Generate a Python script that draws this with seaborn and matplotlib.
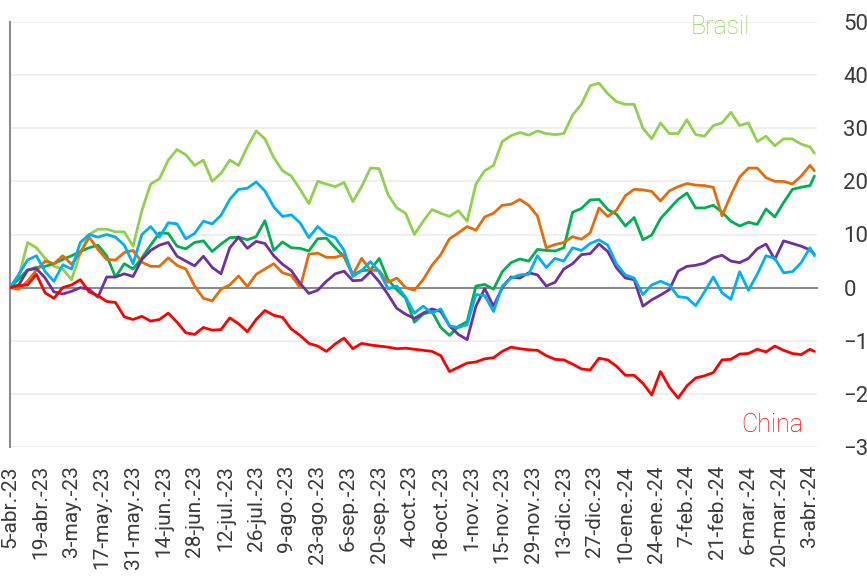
import numpy as np
import pandas as pd
import matplotlib
matplotlib.use('Agg')
import matplotlib.pyplot as plt
import matplotlib.dates as mdates
import seaborn as sns

# ---------------- data ----------------
fechas = list(pd.date_range('2023-04-05', periods=92, freq='4D')) + [pd.Timestamp('2024-04-05')]

brasil = [0, 2, 8.5, 7.5, 5.5, 4, 3.5, 1.5, 6.5, 10,
          11, 11, 10.5, 10.5, 7.8, 14.5, 19.5, 20.5, 24, 26,
          25, 23, 24, 20, 21.5, 24, 23, 26.5, 29.5, 28,
          24.5, 22, 21, 18.5, 15.8, 20, 19.5, 19, 19.8, 16.2,
          19, 22.5, 22.4, 17.5, 15, 14, 10, 12.5, 14.7, 14,
          13.4, 14.5, 12.5, 19.5, 22, 23, 27.5, 28.6, 29.2, 28.7,
          29.5, 29, 28.8, 29, 32.5, 34.5, 38, 38.5, 36.5, 35,
          34.5, 34.5, 30, 28, 31, 29, 29, 31.6, 28.8, 28.5,
          30.5, 31, 33, 30.5, 31, 27.5, 28.5, 26.7, 28, 28,
          27, 26.5, 25.3]

verde = [0, 1.6, 3.3, 3.8, 4, 4.5, 5.3, 6, 6.8, 7.5,
         8, 6, 2, 4.5, 3.5, 5.6, 8, 10.3, 10.2, 7.8,
         7.3, 8.5, 8.8, 6.8, 8.2, 9.4, 9.5, 9, 9.6, 12.6,
         7, 8.6, 7.5, 7.4, 6.9, 9.2, 9.3, 7.5, 5.8, 2.4,
         3.2, 3.3, 5.5, 1.5, -0.4, -2, -6.5, -5, -4.5, -7.5,
         -9, -7.3, -6.4, 0.3, 0.6, -0.3, 3, 4.7, 5.4, 5,
         7.2, 7, 6.9, 7.5, 14.2, 14.9, 16.5, 16.6, 14.7, 13.8,
         11.6, 13.2, 9, 9.9, 13, 14.8, 16.6, 17.8, 15, 15,
         15.5, 14.2, 12.5, 11.6, 12.3, 11.9, 14.8, 13.3, 16, 18.5,
         18.9, 19.2, 21]

naranja = [0, -0.3, 1.2, 3.3, 5, 4.5, 6, 4.4, 6.5, 9.5,
           7.2, 5.3, 5.2, 6.6, 7, 4.8, 4, 4, 5.6, 4.2,
           3.5, 0.3, -2, -2.5, -0.3, 0.5, 2.2, 0.2, 2.5, 3.5,
           4.5, 2.8, 2.3, 0, 6.3, 6.5, 5.7, 5.7, 6.2, 2.4,
           5.5, 3.3, 3.2, 1, 1.8, 0, -0.5, 1.5, 4.2, 6.2,
           9.2, 10.3, 11.5, 10.8, 13.3, 14, 15.5, 15.7, 16.6, 15.5,
           13.5, 7.5, 8.1, 8.5, 9.6, 9.1, 10.3, 15, 13.4, 14.6,
           17.3, 18.5, 18.4, 18.1, 16.3, 18.2, 19, 19.6, 19.3, 19.2,
           18.9, 13.5, 17.4, 20.8, 22.5, 22.5, 20.7, 20, 20, 19.5,
           21, 23, 22]

morado = [0, 0.5, 3.3, 3.6, 1.8, -0.8, -1.2, -0.7, 0, -0.3,
          -1.8, 2, 2, 2.6, 2.1, 5.3, 7, 8, 8.5, 5.9,
          5, 4.1, 5.9, 3.8, 2.6, 7.5, 9.5, 7.4, 8.7, 8.3,
          6, 4.4, 3.2, 0.8, -1.1, -0.5, 1.2, 2.6, 3.1, 1.3,
          1.4, 3, 1.1, -1.3, -3.9, -5, -5.8, -4.8, -4, -4.5,
          -7.2, -8.8, -9.8, -3.5, -0.2, -3.5, 0, 2, 1.8, 2.8,
          2.4, 0.3, 1, 3.5, 4.5, 6.2, 6.4, 8.2, 6.8, 3.7,
          1.8, 1.5, -3.5, -2.3, -1.4, -0.4, 3.1, 4, 4.2, 4.6,
          5.6, 6.1, 5, 4.7, 5.5, 7.3, 8.2, 5.3, 8.8, 8.3,
          7.8, 7.1, 6.3]

celeste = [0, 2.5, 5.2, 6, 3, 1.2, 4.3, 3.5, 8.5, 10,
           9.5, 10, 9.5, 8, 4.5, 10, 11.5, 9.5, 12.2, 12,
           9.2, 10.2, 12.5, 12, 13.6, 16.6, 18.5, 18.7, 19.9, 18.2,
           15.2, 13.4, 13.7, 12.2, 9.4, 11.5, 10, 9.4, 7, 2.1,
           3.2, 4.9, 3, -0.2, 0.3, -1.8, -4.8, -3.5, -4.8, -4,
           -7.2, -7.5, -7, -1.3, -1.5, -4.5, 0.3, 1.8, 2.4, 2.5,
           6, 3.8, 5.5, 5, 7.5, 7, 8.3, 9, 8, 4.4,
           2.4, 1.8, -1.3, 0.5, 1.2, 0.5, -1.7, -1.9, -3.4, -0.8,
           2, -1, -2.2, 3, -0.5, 2.5, 6, 5.5, 2.8, 3,
           4.7, 7.5, 6]

china = [0, 0.4, 0.5, 2.5, -1, -2, 0, 0.5, 1.5, -0.8,
         -1.5, -2.6, -2.8, -5.5, -6, -5.4, -6.3, -6, -4.8, -6.5,
         -8.5, -8.8, -7.5, -8, -7.9, -5.7, -6.8, -8.3, -6, -4.3,
         -5.2, -5.6, -7.8, -9, -10.5, -11, -12, -10.6, -9.5, -11.5,
         -10.5, -10.8, -11, -11.2, -11.5, -11.4, -11.6, -11.8, -12, -12.8,
         -15.8, -15, -14.2, -14, -13.4, -13.2, -12, -11.2, -11.5, -11.7,
         -11.8, -12.8, -13.5, -13.6, -14.4, -15.3, -15.5, -13.3, -13.6, -14.8,
         -16.5, -16.5, -18, -20.2, -15.8, -18.7, -20.8, -18.5, -17, -16.6,
         -16, -13.6, -13.5, -12.5, -12.4, -11.6, -12.1, -11, -11.8, -12.4,
         -12.6, -11.6, -12]

series = {'Brasil': brasil, 'Verde': verde, 'Naranja': naranja,
          'Morado': morado, 'Celeste': celeste, 'China': china}
colores = {'Brasil': '#92D050', 'Verde': '#00B050', 'Naranja': '#E46C0A',
           'Morado': '#7030A0', 'Celeste': '#00B0F0', 'China': '#FF0000'}

etiquetas = ['5-abr.-23', '19-abr.-23', '3-may.-23', '17-may.-23', '31-may.-23',
             '14-jun.-23', '28-jun.-23', '12-jul.-23', '26-jul.-23', '9-ago.-23',
             '23-ago.-23', '6-sep.-23', '20-sep.-23', '4-oct.-23', '18-oct.-23',
             '1-nov.-23', '15-nov.-23', '29-nov.-23', '13-dic.-23', '27-dic.-23',
             '10-ene.-24', '24-ene.-24', '7-feb.-24', '21-feb.-24', '6-mar.-24',
             '20-mar.-24', '3-abr.-24']
fechas_eje = pd.date_range('2023-04-05', periods=27, freq='14D')
yticks = [50, 40, 30, 20, 10, 0, -10, -20, -30]

# ---------------- style ----------------
sns.set_style('white')
plt.rcParams['font.family'] = ['Roboto', 'DejaVu Sans']

fig = plt.figure(figsize=(8.67, 5.79), dpi=100)
ax = fig.add_axes([10 / 867, 1 - 447 / 579, 807 / 867, 425 / 579])

df = pd.concat([pd.DataFrame({'fecha': fechas, 'valor': v, 'serie': k})
                for k, v in series.items()], ignore_index=True)
orden = list(series.keys())
sns.lineplot(data=df, x='fecha', y='valor', hue='serie', hue_order=orden,
             palette=colores, linewidth=2.0, legend=False, ax=ax, zorder=3)

x0 = pd.Timestamp('2023-04-05')
ax.set_xlim(mdates.date2num(x0), mdates.date2num(x0) + 367.2)
ax.set_ylim(-30, 50)
ax.set_xlabel('')
ax.set_ylabel('')

gris = '#8c8c8c'
texto = '#3a3a3a'
ax.yaxis.grid(True, color='#eeeeee', linewidth=1.3)
ax.xaxis.grid(False)
ax.set_axisbelow(True)
for s in ['top', 'right']:
    ax.spines[s].set_visible(False)
ax.spines['left'].set_color(gris)
ax.spines['left'].set_linewidth(1.5)
ax.spines['bottom'].set_position(('data', 0))
ax.spines['bottom'].set_color(gris)
ax.spines['bottom'].set_linewidth(1.5)

xt = mdates.date2num(fechas_eje)
ax.set_xticks(xt)
ax.tick_params(axis='x', length=5, width=1.2, color=gris, direction='out',
               labelbottom=False)

ax.yaxis.tick_right()
ax.set_yticks(yticks)
ax.tick_params(axis='y', length=0, pad=19, labelsize=16, labelcolor=texto)

sec = ax.secondary_xaxis(0)
sec.set_xticks(xt, labels=etiquetas)
sec.tick_params(axis='x', length=0, pad=13, labelsize=15, labelrotation=90,
                labelcolor=texto)
sec.spines['bottom'].set_visible(False)

ax.text(mdates.date2num(pd.Timestamp('2024-02-22')), 49.0, 'Brasil',
        color=colores['Brasil'], fontsize=18, fontweight='light',
        ha='center', va='center')
ax.text(mdates.date2num(pd.Timestamp('2024-03-17')), -25.9, 'China',
        color=colores['China'], fontsize=18, fontweight='light',
        ha='center', va='center')

fig.savefig('out.png', dpi=100)
